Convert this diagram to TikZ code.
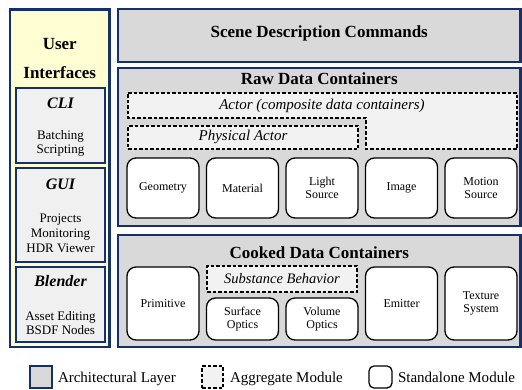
\documentclass[tikz,border=0pt]{standalone}
\usepackage{fontspec}
\setmainfont{Liberation Serif}
\definecolor{navy}{HTML}{15306B}
\definecolor{uiyellow}{HTML}{FFFDD2}
\definecolor{layergray}{HTML}{D9D9D9}
\definecolor{uigray}{HTML}{F0F0F0}
\definecolor{aggfill}{HTML}{F2F2F2}
\begin{document}
\begin{tikzpicture}[x=1pt,y=-1pt,
  every node/.style={inner sep=0pt,outer sep=0pt},
  uipanel/.style={draw=navy,line width=2.4pt,fill=uiyellow},
  uibox/.style={draw=navy,line width=1.8pt,fill=uigray},
  layer/.style={draw=navy,line width=2.2pt,fill=layergray},
  aggr/.style={draw=black,line width=1.2pt,dash pattern=on 3.5pt off 2pt,fill=aggfill},
  solo/.style={draw=black,line width=1.3pt,fill=white,rounded corners=9pt,align=center,font=\fontsize{12}{13.5}\selectfont},
  ttl/.style={font=\fontsize{17}{20}\selectfont\bfseries},
  uittl/.style={font=\fontsize{16}{18}\selectfont\bfseries\itshape},
  uitxt/.style={align=center,font=\fontsize{13}{14}\selectfont},
  aggtxt/.style={font=\fontsize{15}{17}\selectfont\itshape},
  legtxt/.style={anchor=base west,font=\fontsize{15}{17}\selectfont}
]
\useasboundingbox (0,0) rectangle (522,389);

% ---- left panel: user interfaces
\node[uipanel,minimum width=99.5pt,minimum height=337.5pt] (ui) at (59.75,178.25) {};
\node[align=center,font=\fontsize{17}{29}\selectfont\bfseries] (uititle) at (59.75,58.5) {User\\Interfaces};
\node[uibox,minimum width=89pt,minimum height=75pt] (cli) at (60.5,125.5) {};
\node[uittl] (clit) at (60.5,103) {CLI};
\node[uitxt] (clix) at (60.5,143.5) {Batching\\Scripting};
\node[uibox,minimum width=89pt,minimum height=94pt] (gui) at (60.5,215) {};
\node[uittl] (guit) at (60.5,184) {GUI};
\node[uitxt,font=\fontsize{13}{15}\selectfont] (guix) at (60.5,233) {Projects\\Monitoring\\HDR Viewer};
\node[uibox,minimum width=89pt,minimum height=75pt] (bl) at (60.5,304.5) {};
\node[uittl] (blt) at (60.5,281) {Blender};
\node[uitxt] (blx) at (60.5,323.5) {Asset Editing\\BSDF Nodes};

% ---- right layers
\node[layer,minimum width=402.5pt,minimum height=53pt] (scene) at (319.25,35.5) {};
\node[ttl] (scenet) at (319.25,33.5) {Scene Description Commands};

\node[layer,minimum width=402.5pt,minimum height=158pt] (raw) at (319.25,147) {};
\node[ttl] (rawt) at (319.25,78.5) {Raw Data Containers};
\draw[aggr] (128,93) -- (517,93) -- (517,149) -- (366,149) -- (366,118) -- (128,118) -- cycle;
\node[aggtxt] (actor) at (322,106) {Actor (composite data containers)};
\node[aggr,minimum width=230pt,minimum height=23pt] (phys) at (243,137.5) {};
\node[aggtxt] (physt) at (243,137) {Physical Actor};
\node[solo,minimum width=72pt,minimum height=60pt] (geo) at (163,188) {Geometry};
\node[solo,minimum width=72pt,minimum height=60pt] (mat) at (242.5,188) {Material};
\node[solo,minimum width=72pt,minimum height=60pt] (light) at (322,188) {Light\\Source};
\node[solo,minimum width=72pt,minimum height=60pt] (img) at (401.5,188) {Image};
\node[solo,minimum width=72pt,minimum height=60pt] (motion) at (481,188) {Motion\\Source};

\node[layer,minimum width=402.5pt,minimum height=112pt] (cooked) at (319.25,291) {};
\node[ttl] (cookedt) at (319.25,253) {Cooked Data Containers};
\node[solo,minimum width=72pt,minimum height=73pt] (prim) at (163,303.5) {Primitive};
\node[aggr,minimum width=150pt,minimum height=26pt] (subst) at (282,279) {};
\node[aggtxt,font=\fontsize{14.5}{16}\selectfont\itshape] (substt) at (282,279) {Substance Behavior};
\node[solo,minimum width=72pt,minimum height=42pt] (surf) at (242.5,319) {Surface\\Optics};
\node[solo,minimum width=72pt,minimum height=42pt] (vol) at (322,319) {Volume\\Optics};
\node[solo,minimum width=72pt,minimum height=73pt] (emit) at (401.5,303.5) {Emitter};
\node[solo,minimum width=72pt,minimum height=73pt] (tex) at (481,303.5) {Texture\\System};

% ---- legend
\node[layer,line width=2pt,minimum width=22pt,minimum height=22pt] (legA) at (41,377) {};
\node[legtxt] (legAt) at (58,382) {Architectural Layer};
\node[aggr,minimum width=21pt,minimum height=22pt] (legB) at (212.5,377) {};
\node[legtxt] (legBt) at (230,382) {Aggregate Module};
\node[solo,rounded corners=5pt,minimum width=23pt,minimum height=22pt] (legC) at (380.5,377) {};
\node[legtxt] (legCt) at (398,382) {Standalone Module};
\end{tikzpicture}
\end{document}
